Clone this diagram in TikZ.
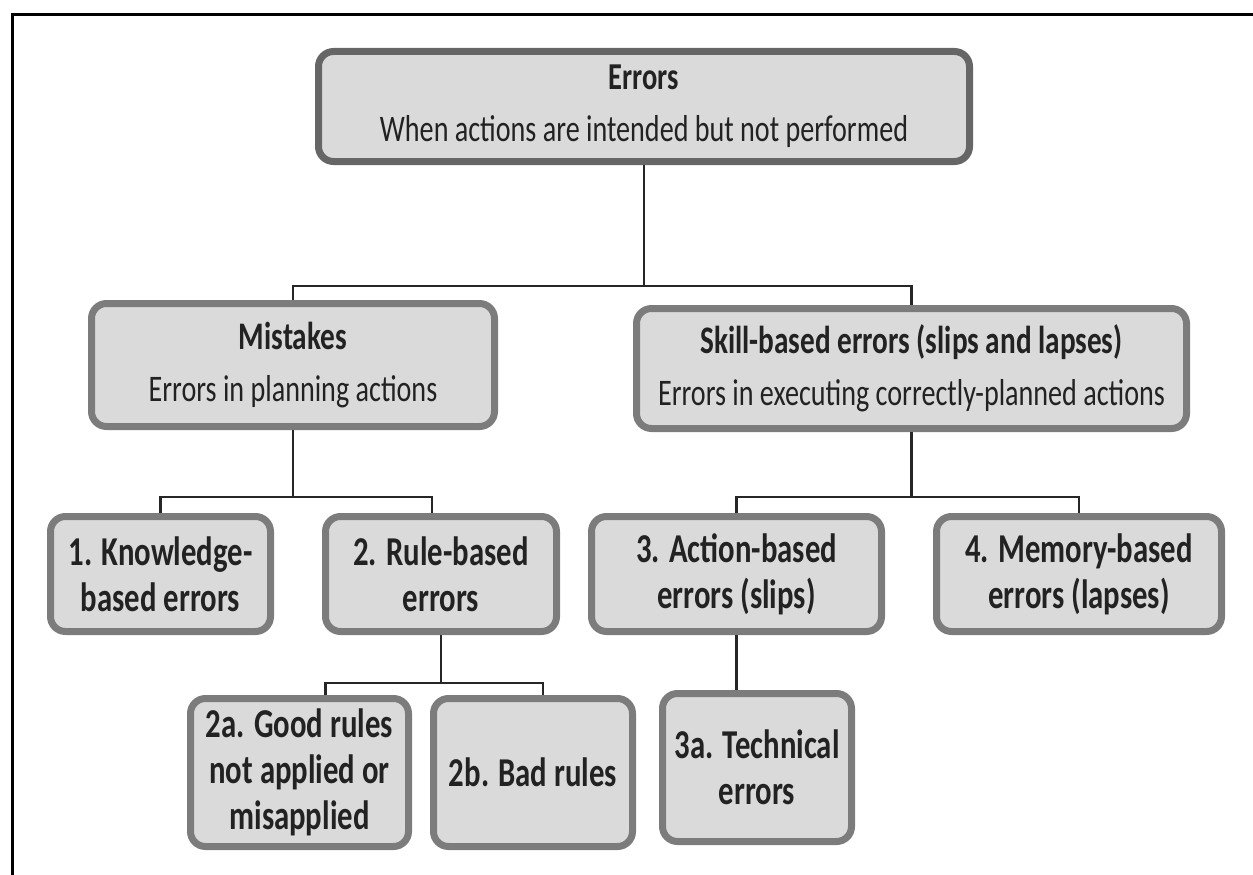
\documentclass[tikz,border=0pt]{standalone}
\usepackage{fontspec}
\setmainfont{Carlito}[FakeStretch=0.75]
\definecolor{boxfill}{HTML}{DADADA}
\definecolor{boxline}{HTML}{7C7C7C}
\definecolor{inkgray}{HTML}{222222}

\begin{document}
\begin{tikzpicture}[x=1pt, y=-1pt,
    box/.style={draw=boxline, fill=boxfill, line width=7pt, rounded corners=15pt,
        align=center, inner sep=0pt, text=inkgray, font=\fontsize{37.5}{44}\selectfont},
    leaf/.style={box, font=\fontsize{41}{46}\selectfont\bfseries},
    link/.style={line width=2.5pt, black!85}]
    \useasboundingbox (0,0) rectangle (1253,875);
    \draw[line width=3pt] (12,875) -- (12,15) -- (1253,15); % frame

    % top level
    \node[box, draw=black!60, minimum width=651, minimum height=110] (err) at (644,106.5)
        {{\fontsize{38}{44}\selectfont\bfseries Errors}\\[8pt]When actions are intended but not performed};

    % second level
    \node[box, minimum width=403, minimum height=123] (mist) at (293,365)
        {{\fontsize{39}{44}\selectfont\bfseries Mistakes}\\[8pt]Errors in planning actions};
    \node[box, minimum width=550, minimum height=120] (skill) at (911.5,368.5)
        {{\fontsize{39}{44}\selectfont\bfseries Skill-based errors (slips and lapses)}\\[8pt]Errors in executing correctly-planned actions};

    % third level
    \node[leaf, minimum width=220, minimum height=115] (know) at (160.5,574) {1. Knowledge-\\based errors};
    \node[leaf, minimum width=231, minimum height=115] (rule) at (441,574) {2. Rule-based\\errors};
    \node[leaf, minimum width=290, minimum height=115] (act) at (736.5,574) {3. Action-based\\errors (slips)};
    \node[leaf, minimum width=285, minimum height=115] (mem) at (1079,574) {4. Memory-based\\errors (lapses)};

    % fourth level
    \node[leaf, minimum width=218, minimum height=148] (good) at (299.5,772.5) {2a. Good rules\\not applied or\\misapplied};
    \node[leaf, minimum width=199, minimum height=148] (bad) at (533,772.5) {2b. Bad rules};
    \node[leaf, minimum width=189, minimum height=148] (tech) at (757,767.5) {3a. Technical\\errors};

    % connectors
    \draw[link] (err.south) -- (err.south |- 0,286);
    \draw[link] (mist.north) -- (mist.north |- 0,286) -| (skill.north);
    \draw[link] (mist.south) -- (mist.south |- 0,497);
    \draw[link] (know.north) -- (know.north |- 0,497) -| ([xshift=-9pt]rule.north);
    \draw[link] (skill.south) -- (skill.south |- 0,497);
    \draw[link] (act.north) -- (act.north |- 0,497) -| (mem.north);
    \draw[link] (rule.south) -- (rule.south |- 0,683);
    \draw[link] ([xshift=26pt]good.north) |- (rule.south |- 0,683) -| ([xshift=10pt]bad.north);
    \draw[link] (act.south) -- (act.south |- tech.north);
\end{tikzpicture}
\end{document}
